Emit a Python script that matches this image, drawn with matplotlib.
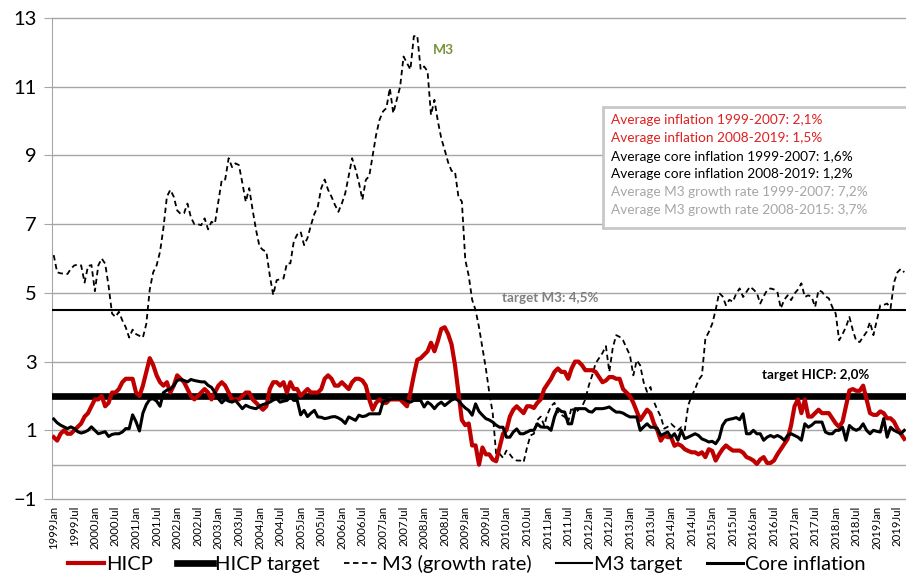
import numpy as np
import matplotlib
matplotlib.use("Agg")
import matplotlib.pyplot as plt
from matplotlib.patches import Rectangle
from matplotlib.lines import Line2D

plt.rcParams['font.family'] = ['Lato', 'DejaVu Sans']

# monthly values, 1999Jan - 2019Sep
hicp = [
    0.8, 0.7, 0.9, 1.0, 0.9, 0.9, 1.0, 1.1, 1.2, 1.4, 1.5, 1.7,  # 1999
    1.9, 1.9, 2.0, 1.7, 1.8, 2.1, 2.1, 2.2, 2.4, 2.5, 2.5, 2.5,  # 2000
    2.1, 2.0, 2.3, 2.7, 3.1, 2.9, 2.6, 2.4, 2.3, 2.4, 2.1, 2.3,  # 2001
    2.6, 2.5, 2.4, 2.2, 2.0, 1.9, 2.0, 2.1, 2.2, 2.1, 1.9, 2.1,  # 2002
    2.3, 2.4, 2.3, 2.1, 1.9, 1.9, 1.9, 2.0, 2.1, 2.1, 1.9, 1.8,  # 2003
    1.7, 1.6, 1.7, 2.2, 2.4, 2.4, 2.3, 2.4, 2.1, 2.4, 2.2, 2.2,  # 2004
    2.0, 2.1, 2.2, 2.1, 2.1, 2.1, 2.2, 2.5, 2.6, 2.5, 2.3, 2.3,  # 2005
    2.4, 2.3, 2.2, 2.4, 2.5, 2.5, 2.45, 2.3, 1.9, 1.6, 1.8, 1.9,  # 2006
    1.8, 1.8, 1.9, 1.9, 1.9, 1.9, 1.8, 1.7, 2.1, 2.6, 3.05, 3.1,  # 2007
    3.2, 3.3, 3.55, 3.3, 3.6, 3.95, 4.0, 3.8, 3.5, 2.9, 2.1, 1.3,  # 2008
    1.15, 1.2, 0.56, 0.56, 0.0, 0.5, 0.3, 0.3, 0.15, 0.1, 0.5, 0.9,  # 2009
    1.0, 1.4, 1.6, 1.7, 1.6, 1.5, 1.7, 1.7, 1.65, 1.8, 1.9, 2.2,  # 2010
    2.35, 2.5, 2.7, 2.8, 2.7, 2.7, 2.5, 2.8, 3.0, 3.0, 2.9, 2.75,  # 2011
    2.75, 2.75, 2.7, 2.55, 2.4, 2.45, 2.55, 2.55, 2.5, 2.5, 2.2, 2.1,  # 2012
    2.0, 1.8, 1.55, 1.3, 1.45, 1.6, 1.5, 1.2, 1.0, 0.7, 0.85, 0.8,  # 2013
    0.8, 0.55, 0.6, 0.55, 0.45, 0.4, 0.36, 0.36, 0.3, 0.36, 0.22, 0.45,  # 2014
    0.4, 0.12, 0.3, 0.45, 0.56, 0.48, 0.41, 0.41, 0.41, 0.35, 0.22, 0.18,  # 2015
    0.12, 0.02, 0.15, 0.22, 0.05, 0.05, 0.12, 0.3, 0.45, 0.6, 0.75, 1.15,  # 2016
    1.7, 1.9, 1.5, 1.9, 1.4, 1.4, 1.5, 1.6, 1.5, 1.5, 1.5, 1.35,  # 2017
    1.2, 1.1, 1.25, 1.7, 2.16, 2.2, 2.15, 2.15, 2.3, 1.9, 1.5, 1.45,  # 2018
    1.45, 1.55, 1.5, 1.35, 1.35, 1.25, 1.05, 0.9, 0.75,  # 2019
]

core = [
    1.33, 1.22, 1.15, 1.1, 1.05, 1.1, 1.05, 0.96, 0.92, 0.95, 1.0, 1.1,  # 1999
    1.0, 0.9, 0.93, 0.96, 0.82, 0.88, 0.9, 0.9, 0.95, 1.05, 1.05, 1.45,  # 2000
    1.25, 0.98, 1.5, 1.75, 1.9, 1.92, 1.85, 1.7, 2.1, 2.17, 2.2, 2.3,  # 2001
    2.45, 2.48, 2.45, 2.41, 2.48, 2.45, 2.43, 2.41, 2.41, 2.31, 2.25, 2.1,  # 2002
    1.92, 1.8, 1.9, 1.85, 1.82, 1.87, 1.75, 1.63, 1.73, 1.68, 1.65, 1.63,  # 2003
    1.7, 1.75, 1.78, 1.82, 1.88, 1.92, 1.82, 1.85, 1.87, 1.97, 1.87, 1.87,  # 2004
    1.45, 1.58, 1.4, 1.5, 1.58, 1.39, 1.38, 1.34, 1.36, 1.39, 1.4, 1.36,  # 2005
    1.3, 1.2, 1.39, 1.34, 1.29, 1.44, 1.4, 1.42, 1.48, 1.48, 1.48, 1.48,  # 2006
    1.82, 1.87, 1.9, 1.92, 1.92, 1.92, 1.92, 1.85, 1.82, 1.87, 1.87, 1.87,  # 2007
    1.68, 1.82, 1.75, 1.63, 1.75, 1.82, 1.72, 1.8, 1.88, 1.92, 1.87, 1.75,  # 2008
    1.65, 1.58, 1.44, 1.77, 1.55, 1.44, 1.34, 1.3, 1.24, 1.15, 1.09, 1.09,  # 2009
    0.8, 0.8, 0.95, 1.04, 0.9, 0.9, 0.95, 1.0, 1.0, 1.19, 1.1, 1.09,  # 2010
    1.09, 1.0, 1.39, 1.63, 1.55, 1.53, 1.19, 1.19, 1.63, 1.63, 1.63, 1.63,  # 2011
    1.55, 1.53, 1.63, 1.63, 1.63, 1.65, 1.68, 1.6, 1.53, 1.53, 1.5, 1.44,  # 2012
    1.39, 1.39, 1.39, 1.0, 1.1, 1.19, 1.09, 1.09, 1.05, 0.85, 0.9, 0.95,  # 2013
    0.8, 0.9, 0.71, 1.0, 0.76, 0.8, 0.85, 0.9, 0.85, 0.75, 0.71, 0.66,  # 2014
    0.68, 0.61, 0.76, 1.14, 1.29, 1.32, 1.34, 1.37, 1.31, 1.48, 0.9, 0.9,  # 2015
    1.0, 0.9, 0.9, 0.71, 0.8, 0.85, 0.8, 0.85, 0.8, 0.71, 0.85, 0.9,  # 2016
    0.85, 0.8, 0.71, 1.19, 1.09, 1.15, 1.24, 1.24, 1.24, 0.95, 0.9, 0.9,  # 2017
    1.0, 1.0, 1.09, 0.71, 1.14, 1.05, 1.0, 1.05, 1.19, 1.0, 0.9, 1.0,  # 2018
    0.97, 0.95, 1.34, 0.8, 1.09, 1.0, 0.95, 0.9, 1.0,  # 2019
]

m3 = [
    6.1, 5.6, 5.57, 5.56, 5.55, 5.7, 5.8, 5.82, 5.8, 5.3, 5.78, 5.81,  # 1999
    5.05, 5.8, 6.0, 5.85, 5.2, 4.4, 4.3, 4.45, 4.2, 4.0, 3.7, 3.93,  # 2000
    3.8, 3.75, 3.7, 4.1, 5.1, 5.6, 5.8, 6.2, 6.9, 7.8, 8.0, 7.8,  # 2001
    7.4, 7.3, 7.32, 7.6, 7.2, 7.0, 7.0, 6.97, 7.17, 6.85, 7.07, 7.02,  # 2002
    7.65, 8.29, 8.3, 8.92, 8.66, 8.77, 8.72, 8.2, 7.65, 8.05, 7.41, 6.83,  # 2003
    6.35, 6.25, 6.2, 5.5, 4.94, 5.37, 5.4, 5.42, 5.86, 5.86, 6.5, 6.7,  # 2004
    6.78, 6.39, 6.6, 6.97, 7.3, 7.51, 8.05, 8.3, 8.0, 7.8, 7.56, 7.36,  # 2005
    7.6, 7.9, 8.4, 8.92, 8.6, 8.2, 7.71, 8.29, 8.4, 9.0, 9.6, 10.04,  # 2006
    10.28, 10.38, 10.96, 10.23, 10.62, 11.0, 11.88, 11.69, 11.5, 12.47, 12.49, 11.5,  # 2007
    11.59, 11.45, 10.18, 10.62, 10.0, 9.5, 9.16, 8.8, 8.55, 8.53, 7.8, 7.66,  # 2008
    5.96, 5.5, 4.8, 4.5, 4.0, 3.4, 2.8, 2.1, 1.5, 0.3, 0.32, 0.2,  # 2009
    0.41, 0.3, 0.17, 0.12, 0.12, 0.07, 0.5, 0.85, 0.9, 1.3, 1.4, 1.14,  # 2010
    1.48, 1.7, 1.8, 1.53, 1.45, 1.39, 1.24, 1.68, 1.48, 1.6, 1.68, 1.9,  # 2011
    2.3, 2.6, 2.95, 3.1, 3.25, 3.45, 2.7, 3.4, 3.77, 3.72, 3.62, 3.4,  # 2012
    3.19, 2.6, 3.04, 2.89, 2.4, 2.12, 2.26, 1.83, 1.6, 1.4, 1.05, 1.1,  # 2013
    1.19, 1.1, 1.0, 1.09, 1.0, 1.73, 2.0, 2.2, 2.46, 2.6, 3.67, 3.86,  # 2014
    4.1, 4.5, 5.0, 4.9, 4.64, 4.8, 4.74, 4.98, 5.13, 4.88, 5.03, 5.18,  # 2015
    5.1, 5.0, 4.69, 4.9, 5.08, 5.13, 5.1, 5.03, 4.55, 4.8, 4.93, 4.79,  # 2016
    4.98, 5.1, 5.28, 4.88, 4.93, 4.88, 4.59, 5.08, 5.03, 4.9, 4.84, 4.59,  # 2017
    4.4, 3.62, 3.8, 4.01, 4.3, 3.91, 3.6, 3.57, 3.72, 3.86, 4.15, 3.77,  # 2018
    4.2, 4.64, 4.65, 4.69, 4.55, 5.3, 5.6, 5.7, 5.6,  # 2019
]

hicp_target = 2.0
m3_target = 4.5

tick_labels = [f"{y}{m}" for y in range(1999, 2020) for m in ("Jan", "Jul")]

box_lines = [
    ("Average inflation 1999-2007: 2,1%", "#e02020"),
    ("Average inflation 2008-2019: 1,5%", "#e02020"),
    ("Average core inflation 1999-2007: 1,6%", "black"),
    ("Average core inflation 2008-2019: 1,2%", "black"),
    ("Average M3 growth rate 1999-2007: 7,2%", "#a6a6a6"),
    ("Average M3 growth rate 2008-2015: 3,7%", "#a6a6a6"),
]

n = len(hicp)
x = np.arange(n)
grey = "#a6a6a6"

fig = plt.figure(figsize=(9.06, 5.84), dpi=100)
ax = fig.add_axes([0.0574, 0.1455, 0.9426, 0.8236])

ax.set_xlim(-0.5, n - 0.5)
ax.set_ylim(-1, 13)
ax.set_yticks(range(-1, 14, 2))
for v in range(-1, 14, 2):
    ax.axhline(v, color=grey, lw=1, zorder=0, clip_on=False)
ax.axhline(0, color=grey, lw=1, zorder=0)

ax.plot(x, hicp, color="#c00000", lw=3, zorder=4, solid_joinstyle="round")
ax.axhline(hicp_target, color="black", lw=4.8, zorder=3)
ax.plot(x, m3, color="black", lw=1.3, ls=(0, (3, 2)), zorder=3)
ax.axhline(m3_target, color="black", lw=1.5, zorder=3)
ax.plot(x, core, color="black", lw=2.2, zorder=5)

for s in ["top", "right", "bottom"]:
    ax.spines[s].set_visible(False)
ax.spines["left"].set_color(grey)

ticks = list(range(0, n, 6))
ax.set_xticks(ticks)
ax.set_xticklabels(tick_labels[:len(ticks)], rotation=90, fontsize=8.2, va="top")
ax.tick_params(axis="x", length=0, pad=5)
ax.tick_params(axis="y", length=6, color=grey, labelsize=14.5, pad=5)

ax.text(113.6, 12.08, "M3", color="#77933c", fontweight="bold", fontsize=10,
        ha="center", va="center")
ax.text(130.6, 4.84, "target M3: 4,5%", color="#7f7f7f", fontweight="bold",
        fontsize=9.6, ha="left", va="center")
ax.text(206.4, 2.6, "target HICP: 2,0%", color="black", fontweight="bold",
        fontsize=9.6, ha="left", va="center")

# text box
ax.add_patch(Rectangle((0.645, 0.563), 0.4, 0.252, transform=ax.transAxes,
                       facecolor="white", edgecolor="#c8c8c8", lw=2,
                       clip_on=False, zorder=6))
ys = [0.788, 0.750, 0.712, 0.676, 0.638, 0.601]
for (txt, col), yy in zip(box_lines, ys):
    ax.text(0.655, yy, txt, color=col, fontsize=9.8, transform=ax.transAxes,
            ha="left", va="center", zorder=7)

handles = [
    Line2D([], [], color="#c00000", lw=3),
    Line2D([], [], color="black", lw=4.8),
    Line2D([], [], color="black", lw=1.3, ls=(0, (3, 2))),
    Line2D([], [], color="black", lw=1.5),
    Line2D([], [], color="black", lw=2.2),
]
labels = ["HICP", "HICP target", "M3 (growth rate)", "M3 target", "Core inflation"]
fig.legend(handles, labels, loc="lower center", bbox_to_anchor=(0.515, -0.012),
           ncol=5, frameon=False, fontsize=14.5, handlelength=1.8,
           handletextpad=0.1, columnspacing=1.2)

fig.savefig("out.png", dpi=100)
